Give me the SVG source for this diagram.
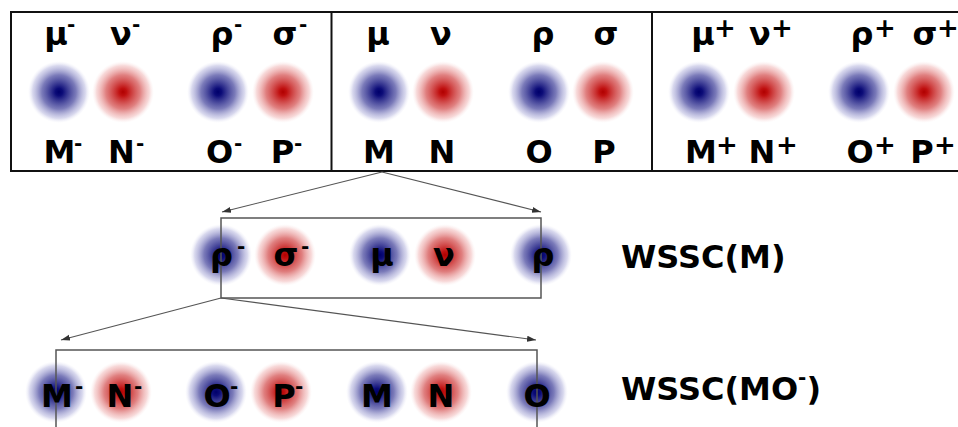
<svg xmlns="http://www.w3.org/2000/svg" width="958" height="427" viewBox="0 0 958 427">
  <defs>
    <radialGradient id="gb" cx="0.5" cy="0.5" r="0.5">
      <stop offset="0" stop-color="#00006a"/>
      <stop offset="0.12" stop-color="#0c0c78"/>
      <stop offset="0.55" stop-color="#5a5aa8" stop-opacity="0.8"/>
      <stop offset="0.85" stop-color="#a8a8d8" stop-opacity="0.45"/>
      <stop offset="1" stop-color="#e0e0f4" stop-opacity="0"/>
    </radialGradient>
    <radialGradient id="gr" cx="0.5" cy="0.5" r="0.5">
      <stop offset="0" stop-color="#b00000"/>
      <stop offset="0.12" stop-color="#c01010"/>
      <stop offset="0.55" stop-color="#d86060" stop-opacity="0.8"/>
      <stop offset="0.85" stop-color="#eeaaaa" stop-opacity="0.45"/>
      <stop offset="1" stop-color="#f8e0e0" stop-opacity="0"/>
    </radialGradient>
    <marker id="ah" markerUnits="userSpaceOnUse" markerWidth="10" markerHeight="8" refX="9" refY="4" orient="auto">
      <path d="M0,1 L9,4 L0,7 Z" fill="#333"/>
    </marker>
  </defs>
  <style>
    .t { font-family: "DejaVu Sans", Verdana, sans-serif; font-weight: bold; font-size: 32px; fill: #000; text-anchor: middle; }
    .s { font-size: 20px; text-anchor: start; }
    .p { font-size: 26px; text-anchor: start; }
    .w { text-anchor: start; }
    .b { fill: url(#gb); }
    .r { fill: url(#gr); }
    .frame { fill: none; stroke: #111; stroke-width: 2; }
    .win { fill: none; stroke: #555; stroke-width: 1.5; }
    .link { fill: none; stroke: #555; stroke-width: 1.2; marker-end: url(#ah); }
  </style>

  <!-- top strip: three panels of orbitals -->
  <g id="strip">
    <rect class="frame" x="11" y="12" width="960" height="159"/>
    <line class="frame" x1="331.5" y1="12" x2="331.5" y2="171"/>
    <line class="frame" x1="652" y1="12" x2="652" y2="171"/>
  </g>

  <!-- panel 1 (minus) -->
  <g id="n-mu-minus">
    <circle class="b" cx="59" cy="92" r="31"/>
    <text class="t" x="56" y="45">μ<tspan class="s" x="67" y="31">-</tspan></text>
    <text class="t" x="59.5" y="163">M<tspan class="s" x="74" y="150">-</tspan></text>
  </g>
  <g id="n-nu-minus">
    <circle class="r" cx="123" cy="92" r="31"/>
    <text class="t" x="121" y="45">ν<tspan class="s" x="132" y="31">-</tspan></text>
    <text class="t" x="121.5" y="163">N<tspan class="s" x="136" y="150">-</tspan></text>
  </g>
  <g id="n-rho-minus">
    <circle class="b" cx="218" cy="92" r="31"/>
    <text class="t" x="222" y="45">ρ<tspan class="s" x="234" y="31">-</tspan></text>
    <text class="t" x="219.5" y="163">O<tspan class="s" x="234" y="150">-</tspan></text>
  </g>
  <g id="n-sigma-minus">
    <circle class="r" cx="283" cy="92" r="31"/>
    <text class="t" x="285" y="45">σ<tspan class="s" x="299" y="31">-</tspan></text>
    <text class="t" x="282.5" y="163">P<tspan class="s" x="294" y="150">-</tspan></text>
  </g>

  <!-- panel 2 (neutral) -->
  <g id="n-mu">
    <circle class="b" cx="379" cy="92" r="31"/>
    <text class="t" x="378" y="45">μ</text>
    <text class="t" x="379" y="163">M</text>
  </g>
  <g id="n-nu">
    <circle class="r" cx="443" cy="92" r="31"/>
    <text class="t" x="441" y="45">ν</text>
    <text class="t" x="442" y="163">N</text>
  </g>
  <g id="n-rho">
    <circle class="b" cx="539" cy="92" r="31"/>
    <text class="t" x="543" y="45">ρ</text>
    <text class="t" x="539" y="163">O</text>
  </g>
  <g id="n-sigma">
    <circle class="r" cx="603" cy="92" r="31"/>
    <text class="t" x="606" y="45">σ</text>
    <text class="t" x="604" y="163">P</text>
  </g>

  <!-- panel 3 (plus) -->
  <g id="n-mu-plus">
    <circle class="b" cx="699" cy="92" r="31"/>
    <text class="t" x="703" y="45">μ<tspan class="p" x="714" y="37">+</tspan></text>
    <text class="t" x="701" y="163">M<tspan class="p" x="716" y="154">+</tspan></text>
  </g>
  <g id="n-nu-plus">
    <circle class="r" cx="764" cy="92" r="31"/>
    <text class="t" x="760" y="45">ν<tspan class="p" x="771" y="37">+</tspan></text>
    <text class="t" x="762" y="163">N<tspan class="p" x="776" y="154">+</tspan></text>
  </g>
  <g id="n-rho-plus">
    <circle class="b" cx="859" cy="92" r="31"/>
    <text class="t" x="862" y="45">ρ<tspan class="p" x="874" y="37">+</tspan></text>
    <text class="t" x="860" y="163">O<tspan class="p" x="874" y="154">+</tspan></text>
  </g>
  <g id="n-sigma-plus">
    <circle class="r" cx="924" cy="92" r="31"/>
    <text class="t" x="925" y="45">σ<tspan class="p" x="937" y="37">+</tspan></text>
    <text class="t" x="922" y="163">P<tspan class="p" x="934" y="154">+</tspan></text>
  </g>

  <!-- window WSSC(M) -->
  <g id="w-rho-minus">
    <circle class="b" cx="221" cy="255" r="31"/>
  </g>
  <g id="w-sigma-minus">
    <circle class="r" cx="285" cy="255" r="31"/>
  </g>
  <g id="w-mu">
    <circle class="b" cx="380" cy="255" r="31"/>
  </g>
  <g id="w-nu">
    <circle class="r" cx="445" cy="255" r="31"/>
  </g>
  <g id="w-rho">
    <circle class="b" cx="541" cy="255" r="31"/>
  </g>
  <rect id="win-m" class="win" x="221" y="218" width="320" height="80"/>
  <g id="w-labels">
    <text class="t" x="221.5" y="266">ρ<tspan class="s" x="237" y="253">-</tspan></text>
    <text class="t" x="286" y="266">σ<tspan class="s" x="301" y="253">-</tspan></text>
    <text class="t" x="382" y="266">μ</text>
    <text class="t" x="444" y="266">ν</text>
    <text class="t" x="543" y="266">ρ</text>
  </g>
  <g id="title-m">
    <text class="t w" x="621" y="268">WSSC(M)</text>
  </g>

  <!-- window WSSC(MO-) -->
  <g id="v-m-minus">
    <circle class="b" cx="56" cy="392" r="31"/>
  </g>
  <g id="v-n-minus">
    <circle class="r" cx="121" cy="392" r="31"/>
  </g>
  <g id="v-o-minus">
    <circle class="b" cx="216" cy="392" r="31"/>
  </g>
  <g id="v-p-minus">
    <circle class="r" cx="281" cy="392" r="31"/>
  </g>
  <g id="v-m">
    <circle class="b" cx="377" cy="392" r="31"/>
  </g>
  <g id="v-n">
    <circle class="r" cx="441" cy="392" r="31"/>
  </g>
  <g id="v-o">
    <circle class="b" cx="537" cy="392" r="31"/>
  </g>
  <rect id="win-mo" class="win" x="56" y="350" width="481" height="100"/>
  <g id="v-labels">
    <text class="t" x="57" y="407">M<tspan class="s" x="75" y="393">-</tspan></text>
    <text class="t" x="120" y="407">N<tspan class="s" x="134" y="393">-</tspan></text>
    <text class="t" x="217" y="407">O<tspan class="s" x="230" y="393">-</tspan></text>
    <text class="t" x="284" y="407">P<tspan class="s" x="295" y="393">-</tspan></text>
    <text class="t" x="377" y="407">M</text>
    <text class="t" x="441" y="407">N</text>
    <text class="t" x="537" y="407">O</text>
  </g>
  <g id="title-mo">
    <text class="t w" x="621" y="400">WSSC(MO<tspan class="s" dy="-16">-</tspan><tspan dy="16">)</tspan></text>
  </g>

  <!-- connectors -->
  <g id="connectors">
    <line class="link" x1="382" y1="172" x2="222" y2="212"/>
    <line class="link" x1="382" y1="172" x2="541" y2="212"/>
    <line class="link" x1="221" y1="298" x2="61" y2="340"/>
    <line class="link" x1="221" y1="298" x2="536" y2="340"/>
  </g>
</svg>
